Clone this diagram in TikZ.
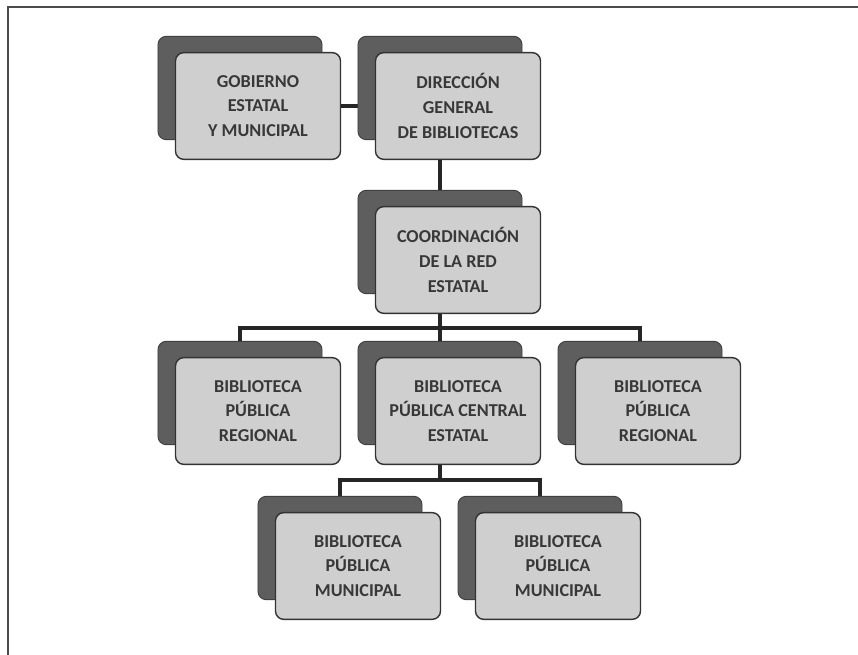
\documentclass[tikz,border=0pt]{standalone}
\usepackage{fontspec}
\setmainfont{Carlito}
\usepackage{xcolor}
\usetikzlibrary{positioning,backgrounds}

\definecolor{sombragris}{HTML}{5E5E5E}
\definecolor{cajagris}{HTML}{CFCFCF}
\definecolor{textogris}{HTML}{383838}

\begin{document}
\begin{tikzpicture}[x=0.03cm, y=-0.03cm,
    caja/.style={draw=black!80, line width=1.2pt, fill=cajagris, rounded corners=7pt,
        minimum width=4.95cm, minimum height=3.2cm, inner sep=0pt, align=center,
        text=textogris, font=\fontsize{15.5}{21}\selectfont\bfseries},
    sombra/.style={draw=black!75, line width=0.8pt, fill=sombragris, rounded corners=7pt,
        minimum width=4.92cm, minimum height=3.1cm, inner sep=0pt},
    linea/.style={line width=2.6pt, black!85}]
    \useasboundingbox (0,0) rectangle (858,655);

    % Marco
    \draw [black!70, line width=1pt] (8,655) -- (8,7) -- (858,7);

    % Gobierno y Direccion
    \node [sombra] (gobS) at (240, 88) {};
    \node [caja] (gob) at (258, 106) {GOBIERNO\\ESTATAL\\Y MUNICIPAL};
    \node [sombra] (dirS) at (440, 88) {};
    \node [caja] (dir) at (458, 106) {DIRECCIÓN\\GENERAL\\DE BIBLIOTECAS};

    % Coordinacion
    \node [sombra] (coordS) at (440, 242) {};
    \node [caja] (coord) at (458, 260) {COORDINACIÓN\\DE LA RED\\ESTATAL};

    % Bibliotecas regionales y central
    \node [sombra] (reg1S) at (240, 393) {};
    \node [caja] (reg1) at (258, 411) {BIBLIOTECA\\PÚBLICA\\REGIONAL};
    \node [sombra] (cenS) at (440, 393) {};
    \node [caja] (cen) at (458, 411) {BIBLIOTECA\\PÚBLICA CENTRAL\\ESTATAL};
    \node [sombra] (reg2S) at (640, 393) {};
    \node [caja] (reg2) at (658, 411) {BIBLIOTECA\\PÚBLICA\\REGIONAL};

    % Bibliotecas municipales
    \node [sombra] (mun1S) at (340, 548) {};
    \node [caja] (mun1) at (358, 566) {BIBLIOTECA\\PÚBLICA\\MUNICIPAL};
    \node [sombra] (mun2S) at (540, 548) {};
    \node [caja] (mun2) at (558, 566) {BIBLIOTECA\\PÚBLICA\\MUNICIPAL};

    % Conectores
    \coordinate (bus1) at (440, 328);
    \coordinate (bus2) at (440, 480);
    \begin{pgfonlayer}{background}
        \draw [linea] (gob) -- (dir);
        \draw [linea] (dirS) -- (coordS);
        \draw [linea] (coordS) -- (cenS);
        \draw [linea] (reg1S) |- (bus1) -| (reg2S);
        \draw [linea] (cenS) -- (bus2);
        \draw [linea] (mun1S) |- (bus2) -| (mun2S);
    \end{pgfonlayer}
\end{tikzpicture}
\end{document}
